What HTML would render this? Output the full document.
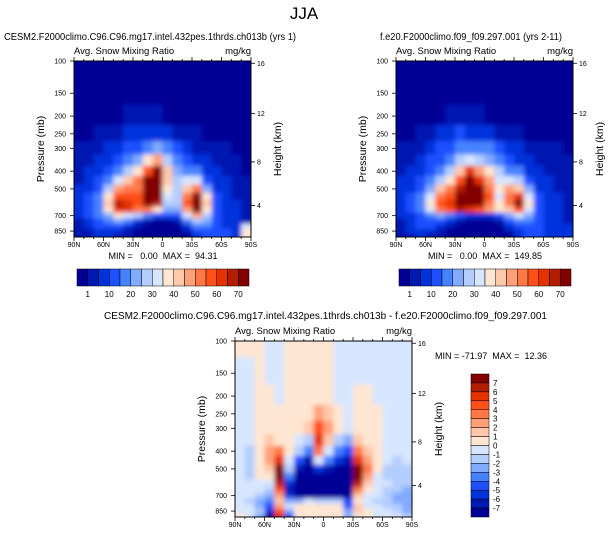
<!DOCTYPE html>
<html><head><meta charset="utf-8">
<style>
html,body{margin:0;padding:0;background:#fff;}
svg{display:block;font-family:"Liberation Sans",sans-serif;}
text{white-space:pre;}
</style></head>
<body>
<svg id="chart" width="609" height="538" viewBox="0 0 609 538" xmlns="http://www.w3.org/2000/svg">
<defs>
<filter id="soft" x="-5%" y="-5%" width="110%" height="110%"><feGaussianBlur stdDeviation="2.3"/></filter>
<clipPath id="c1"><rect x="74" y="61" width="177" height="176"/></clipPath>
<clipPath id="c2"><rect x="396" y="61" width="177" height="176"/></clipPath>
<clipPath id="c3"><rect x="235" y="341" width="177" height="176"/></clipPath>
</defs>
<text x="304" y="19" font-size="17" text-anchor="middle">JJA</text>
<g id="root"></g>
</svg>
<script>
// latitude column centers (deg, + = N)
const lats = [85,75,65,55,45,35,25,15,5,-5,-15,-25,-35,-45,-55,-65,-75,-85];
// pressure levels (mb)
const levels = [100,150,200,250,300,350,400,450,500,550,600,650,700,750,800,850,900];
// contour level boundaries
const topBounds = [1,5,10,15,20,25,30,35,40,45,50,55,60,65,70];
const diffBounds = [-7,-6,-5,-4,-3,-2,-1,0,1,2,3,4,5,6,7];
const topTickLabels = ["1","10","20","30","40","50","60","70"];
const diffTickLabels = ["7","6","5","4","3","2","1","0","-1","-2","-3","-4","-5","-6","-7"];
const latTicks = [90,60,30,0,-30,-60,-90];
const latTickLabels = ["90N","60N","30N","0","30S","60S","90S"];
const pTicks = [100,150,200,250,300,400,500,700,850];
const heightTicks = [4,8,12,16];
const colors = ["#000096","#0019b0","#0032dc","#1e50ff","#4682ff","#82aaff","#b4cdff","#d7e6ff","#ffe6d2","#ffc8aa","#ffa078","#ff7846","#ff5019","#e63200","#b41e00","#820000"];

// CESM2 test case (mg/kg), rows = levels, cols = lats
const testField = [
[0.5,0.5,0.5,0.5,0.5,0.5,0.5,0.5,0.5,0.5,0.5,0.5,0.5,0.5,0.5,0.5,0.5,0.5],
[0.5,0.5,0.5,0.5,0.5,0.5,0.5,0.5,0.5,0.5,0.5,0.5,0.5,0.5,0.5,0.5,0.5,0.5],
[0.5,0.5,0.5,0.5,0.5,3,3,3,3,0.5,0.5,0.5,0.5,0.5,0.5,0.5,0.5,0.5],
[0.5,0.5,3,3,3,7.5,7.5,7.5,7.5,7.5,3,3,3,0.5,0.5,0.5,0.5,0.5],
[3,3,3,7.5,7.5,12.5,12.5,17.5,22.5,17.5,12.5,7.5,3,3,3,3,0.5,0.5],
[3,3,7.5,7.5,12.5,17.5,22.5,37.5,47.5,27.5,17.5,12.5,7.5,7.5,3,3,3,0.5],
[3,7.5,7.5,12.5,17.5,27.5,37.5,57.5,75,42.5,22.5,17.5,17.5,7.5,7.5,3,3,0.5],
[3,7.5,12.5,17.5,32.5,42.5,52.5,75,75,42.5,27.5,32.5,32.5,12.5,7.5,7.5,3,3],
[7.5,7.5,12.5,27.5,47.5,52.5,52.5,75,75,37.5,27.5,42.5,52.5,22.5,7.5,7.5,3,3],
[7.5,12.5,17.5,37.5,57.5,57.5,57.5,75,75,32.5,27.5,52.5,75,37.5,12.5,7.5,3,3],
[7.5,12.5,17.5,42.5,67.5,62.5,57.5,75,67.5,27.5,27.5,57.5,75,42.5,12.5,7.5,7.5,3],
[7.5,12.5,17.5,37.5,62.5,62.5,52.5,52.5,37.5,22.5,22.5,47.5,75,37.5,12.5,7.5,7.5,3],
[7.5,12.5,17.5,22.5,37.5,32.5,27.5,17.5,12.5,12.5,12.5,32.5,47.5,27.5,12.5,7.5,7.5,3],
[3,7.5,12.5,17.5,22.5,17.5,7.5,3,0.5,0.5,3,17.5,27.5,22.5,12.5,7.5,7.5,3],
[3,7.5,12.5,12.5,12.5,7.5,3,0.5,0.5,0.5,0.5,7.5,17.5,17.5,12.5,7.5,7.5,32.5],
[3,3,7.5,7.5,7.5,3,0.5,0.5,0.5,0.5,0.5,3,12.5,12.5,12.5,12.5,7.5,37.5],
[3,3,7.5,7.5,3,3,0.5,0.5,0.5,0.5,0.5,0.5,7.5,12.5,12.5,12.5,7.5,37.5]];

// f.e20 control case (mg/kg)
const ctrlField = [
[0.5,0.5,0.5,0.5,0.5,0.5,0.5,0.5,0.5,0.5,0.5,0.5,0.5,0.5,0.5,0.5,0.5,0.5],
[0.5,0.5,0.5,0.5,0.5,0.5,0.5,0.5,0.5,0.5,0.5,0.5,0.5,0.5,0.5,0.5,0.5,0.5],
[0.5,0.5,0.5,0.5,0.5,3,3,3,3,0.5,0.5,0.5,0.5,0.5,0.5,0.5,0.5,0.5],
[0.5,0.5,3,3,7.5,7.5,12.5,7.5,7.5,7.5,3,3,3,0.5,0.5,0.5,0.5,0.5],
[3,3,3,7.5,12.5,12.5,17.5,17.5,17.5,17.5,12.5,7.5,7.5,3,3,3,3,0.5],
[3,3,7.5,12.5,12.5,17.5,27.5,32.5,27.5,22.5,17.5,12.5,7.5,7.5,3,3,3,3],
[3,7.5,7.5,12.5,17.5,27.5,42.5,62.5,47.5,37.5,27.5,17.5,17.5,7.5,7.5,3,3,3],
[7.5,7.5,12.5,17.5,27.5,37.5,57.5,75,62.5,47.5,32.5,32.5,27.5,12.5,7.5,7.5,3,3],
[7.5,7.5,12.5,22.5,42.5,52.5,67.5,75,75,52.5,37.5,47.5,42.5,22.5,7.5,7.5,3,3],
[7.5,12.5,17.5,32.5,52.5,57.5,75,75,75,57.5,32.5,52.5,62.5,32.5,12.5,7.5,7.5,3],
[7.5,12.5,17.5,37.5,57.5,62.5,75,75,75,52.5,37.5,52.5,75,37.5,12.5,7.5,7.5,3],
[7.5,12.5,17.5,32.5,52.5,57.5,67.5,62.5,57.5,47.5,37.5,42.5,57.5,32.5,12.5,7.5,7.5,3],
[7.5,7.5,12.5,17.5,22.5,17.5,12.5,7.5,7.5,7.5,12.5,22.5,32.5,22.5,12.5,7.5,7.5,3],
[3,7.5,12.5,12.5,12.5,7.5,3,0.5,0.5,0.5,3,12.5,17.5,17.5,12.5,7.5,7.5,3],
[3,7.5,12.5,12.5,7.5,3,0.5,0.5,0.5,0.5,0.5,7.5,12.5,12.5,12.5,7.5,7.5,7.5],
[3,7.5,7.5,7.5,3,0.5,0.5,0.5,0.5,0.5,0.5,3,7.5,12.5,12.5,7.5,7.5,7.5],
[3,3,7.5,3,3,0.5,0.5,0.5,0.5,0.5,0.5,0.5,7.5,12.5,12.5,7.5,7.5,7.5]];

// difference test - control (mg/kg)
const diffField = [
[0.5,0.5,0.5,-0.5,-0.5,0.5,0.5,0.5,0.5,0.5,-0.5,-0.5,-0.5,-0.5,-0.5,-0.5,-0.5,-0.5],
[-0.5,-0.5,0.5,-0.5,-0.5,0.5,0.5,0.5,0.5,0.5,-0.5,-0.5,-0.5,-0.5,-0.5,-0.5,-0.5,-0.5],
[-0.5,-0.5,0.5,0.5,-0.5,0.5,0.5,0.5,0.5,0.5,-0.5,-0.5,0.5,0.5,-0.5,-0.5,-0.5,-0.5],
[-0.5,-0.5,0.5,0.5,0.5,0.5,0.5,0.5,2.5,1.5,0.5,-0.5,0.5,0.5,0.5,-0.5,-0.5,-0.5],
[-0.5,-0.5,0.5,0.5,0.5,0.5,0.5,1.5,4.5,2.5,0.5,-0.5,0.5,0.5,0.5,-0.5,-0.5,-0.5],
[-0.5,-0.5,0.5,1.5,0.5,0.5,-0.5,-1.5,5.5,1.5,-1.5,-2.5,1.5,0.5,0.5,-0.5,-0.5,-0.5],
[-0.5,-1.5,0.5,2.5,3.5,0.5,-1.5,-3.5,3.5,-0.5,-3.5,-4.5,3.5,1.5,0.5,-0.5,-0.5,-0.5],
[-0.5,-1.5,0.5,2.5,5.5,-0.5,-4.5,-6.5,-0.5,-3.5,-5.5,-6.5,5.5,2.5,0.5,-0.5,-1.5,-0.5],
[-0.5,-1.5,0.5,1.5,9,-1.5,-6.5,-9,-5.5,-6.5,-9,-9,9,3.5,0.5,-1.5,-1.5,-1.5],
[-0.5,-1.5,0.5,0.5,9,-3.5,-9,-9,-9,-9,-9,-9,9,2.5,-0.5,-1.5,-1.5,-1.5],
[-0.5,-0.5,-0.5,-0.5,6.5,-5.5,-9,-9,-9,-9,-9,-9,6.5,1.5,-0.5,-0.5,-1.5,-1.5],
[-0.5,-0.5,-0.5,-1.5,4.5,-6.5,-9,-9,-9,-9,-9,-9,3.5,0.5,-0.5,-1.5,-1.5,-2.5],
[-0.5,-0.5,-1.5,-2.5,2.5,-5.5,-9,-9,-9,-9,-9,-9,1.5,-0.5,-0.5,-1.5,-2.5,-2.5],
[-0.5,-1.5,-2.5,-3.5,1.5,-2.5,-2.5,-0.5,-1.5,-1.5,-1.5,-4.5,0.5,-0.5,-1.5,-1.5,-2.5,-2.5],
[-0.5,-0.5,-2.5,-4.5,2.5,-0.5,0.5,0.5,0.5,0.5,0.5,-4.5,1.5,-0.5,-0.5,-1.5,-1.5,-2.5],
[-0.5,-0.5,-1.5,-5.5,4.5,-2.5,0.5,0.5,0.5,0.5,0.5,-2.5,1.5,0.5,-0.5,-0.5,-1.5,-2.5],
[0.5,-0.5,-2.5,-9,5.5,-4.5,0.5,0.5,0.5,0.5,0.5,-2.5,0.5,0.5,-0.5,-0.5,-0.5,-1.5]];

const NS = "http://www.w3.org/2000/svg";
const root = document.getElementById("root");
function mk(tag, attrs, parent){const e=document.createElementNS(NS,tag);for(const k in attrs)e.setAttribute(k,attrs[k]);(parent||root).appendChild(e);return e;}
function txt(x,y,s,size,anchor,parent){const t=mk("text",{x:x,y:y,"font-size":size,"text-anchor":anchor||"start"},parent);t.textContent=s;return t;}
function colorIdx(v,b){let i=0;while(i<b.length&&v>=b[i])i++;return i;}
function heightToP(z){const m=z*1000;if(m<=11000)return 1013.25*Math.pow(1-2.2558e-5*m,5.256);return 226.32*Math.exp(-(m-11000)/6341.6);}

function panel(ox,oy,field,bounds,clipId,name){
  const W=177,H=176;
  const xs=lat=>ox+(90-lat)/180*W;
  const ys=p=>oy+183*Math.log10(p/100);
  const g=mk("g",{"clip-path":"url(#"+clipId+")"});
  
  
  const gf=mk("g",{filter:"url(#soft)"},g);
  for(let r=0;r<levels.length;r++){
    let y0=r===0?oy-8:ys(Math.sqrt(levels[r-1]*levels[r]));
    let y1=r===levels.length-1?oy+H+8:ys(Math.sqrt(levels[r]*levels[r+1]));
    for(let c=0;c<lats.length;c++){
      let x0=xs(lats[c]+5),x1=xs(lats[c]-5);
      if(c===0)x0-=8; if(c===lats.length-1)x1+=8;
      const cell=mk("rect",{x:x0.toFixed(2),y:y0.toFixed(2),width:(x1-x0+0.6).toFixed(2),height:(y1-y0+0.6).toFixed(2),fill:colors[colorIdx(field[r][c],bounds)]},gf);
      
      
    }
  }
  const fr=mk("rect",{x:ox,y:oy,width:W,height:H,fill:"none",stroke:"#000","stroke-width":1});
  
  
  for(let lat=90;lat>=-90;lat-=10){
    const x=xs(lat);const major=lat%30===0;
    mk("line",{x1:x,x2:x,y1:oy+H,y2:oy+H+(major?4:2),stroke:"#000","stroke-width":0.8});
    mk("line",{x1:x,x2:x,y1:oy,y2:oy-(major?4:2),stroke:"#000","stroke-width":0.8});
  }
  latTicks.forEach((lat,i)=>{const t=txt(xs(lat),oy+H+10,latTickLabels[i],7,"middle");
    
    });
  pTicks.forEach(p=>{const y=ys(p);
    mk("line",{x1:ox-4,x2:ox,y1:y,y2:y,stroke:"#000","stroke-width":0.8});
    const t=txt(ox-8,y+2.5,String(p),7,"end");
    
    });
  heightTicks.forEach(z=>{const y=ys(heightToP(z));
    mk("line",{x1:ox+W,x2:ox+W+4,y1:y,y2:y,stroke:"#000","stroke-width":0.8});
    const t=txt(ox+W+6,y+2.5,String(z),7,"start");
    
    });
  const a=txt(ox,oy-7,"Avg. Snow Mixing Ratio",9.5,"start");
  
  
  const u=txt(ox+W,oy-7,"mg/kg",9.5,"end");
  
  
  const yl=txt(0,0,"Pressure (mb)",10.5,"middle");
  yl.setAttribute("transform","translate("+(ox-30)+","+(oy+H/2)+") rotate(-90)");
  
  
  const hl=txt(0,0,"Height (km)",10.5,"middle");
  hl.setAttribute("transform","translate("+(ox+W+30)+","+(oy+H/2)+") rotate(-90)");
  
  
}

function hbar(x,y,w,h,name){
  const n=colors.length,bw=w/n;
  for(let i=0;i<n;i++){const r=mk("rect",{x:x+i*bw,y:y,width:bw,height:h,fill:colors[i],stroke:"#000","stroke-width":0.5});
    
    }
  topTickLabels.forEach((s,k)=>{const t=txt(x+(2*k+1)*bw,y+h+11,s,8,"middle");
    
    });
}
function vbar(x,y,w,h,name){
  const n=colors.length,bh=h/n;
  for(let i=0;i<n;i++){const r=mk("rect",{x:x,y:y+i*bh,width:w,height:bh,fill:colors[n-1-i],stroke:"#000","stroke-width":0.5});
    
    }
  diffTickLabels.forEach((s,k)=>{const t=txt(x+w+4,y+(k+1)*bh+3,s,8,"start");
    
    });
}

panel(74,61,testField,topBounds,"c1","test-panel");
panel(396,61,ctrlField,topBounds,"c2","control-panel");
panel(235,341,diffField,diffBounds,"c3","diff-panel");

let t;
t=txt(4,40,"CESM2.F2000climo.C96.C96.mg17.intel.432pes.1thrds.ch013b (yrs 1)",10,"start");
t.setAttribute("textLength","292");t.setAttribute("lengthAdjust","spacingAndGlyphs");


t=txt(380,40,"f.e20.F2000climo.f09_f09.297.001 (yrs 2-11)",10,"start");
t.setAttribute("textLength","182");t.setAttribute("lengthAdjust","spacingAndGlyphs");


t=txt(163,259,"MIN =   0.00  MAX =  94.31",9,"middle");


t=txt(485,259,"MIN =   0.00  MAX =  149.85",9,"middle");


t=txt(104,319,"CESM2.F2000climo.C96.C96.mg17.intel.432pes.1thrds.ch013b - f.e20.F2000climo.f09_f09.297.001",10,"start");
t.setAttribute("textLength","443");t.setAttribute("lengthAdjust","spacingAndGlyphs");


t=txt(435,359,"MIN = -71.97  MAX =  12.36",9,"start");



hbar(77,269,172,17,"test-colorbar");
hbar(399,269,172,17,"control-colorbar");
vbar(471,374,18,143,"diff-colorbar");
</script>
</body></html>
